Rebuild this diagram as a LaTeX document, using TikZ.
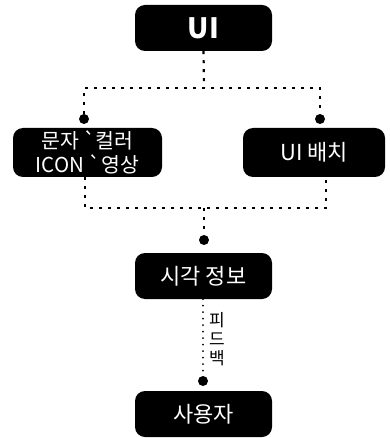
\documentclass[tikz,border=0pt]{standalone}
\usepackage{fontspec}
\setmainfont{Noto Sans CJK KR}[Ligatures=TeXOff]
\usetikzlibrary{positioning}

\begin{document}
\begin{tikzpicture}[x=1pt,y=-1pt,
  uibox/.style={fill=black,rounded corners=10pt,text=white,inner sep=0pt,
                minimum width=137pt,minimum height=46pt,align=center,
                font=\fontsize{22}{25}\selectfont},
  enddot/.style={circle,fill=black,minimum size=10pt,inner sep=0pt},
  dashlink/.style={line width=2.2pt,dash pattern=on 3pt off 6pt},
  dotlink/.style={line width=2pt,line cap=round,dash pattern=on 0pt off 6.5pt}]
  \useasboundingbox (0,0) rectangle (389,438);
  \node[uibox,font=\fontsize{28}{30}\selectfont\bfseries] (ui) at (203.5,28) {UI};
  \node[uibox,minimum width=149pt,minimum height=49pt,font=\fontsize{20.5}{24}\selectfont]
    (media) at (87.5,152.5) {문자 `컬러\\ICON `영상};
  \node[uibox,minimum width=142pt,minimum height=49pt] (layout) at (314,152.5) {UI 배치};
  \node[uibox] (visual) at (203.5,276) {시각 정보};
  \node[uibox] (user) at (203.5,414) {사용자};
  % ends of the links
  \node[enddot] (dotmedia) at (84,119) {};
  \node[enddot] (dotlayout) at (320,119) {};
  \node[enddot] (dotvisual) at (204,240) {};
  \node[enddot] (dotuser) at (203,381) {};
  \coordinate (jtop) at (204,88);
  \coordinate (jbot) at (204,208);
  % upper tree
  \draw[dashlink] (ui.south) -- (jtop);
  \draw[dashlink] (dotmedia.north) |- (jtop) -| (dotlayout.north);
  % lower tree
  \draw[dashlink] (media.south -| 85,0) |- (jbot) -| (layout.south -| 326,0);
  \draw[dashlink] (jbot) -- (dotvisual.north);
  % feedback
  \draw[dotlink] (visual.south -| dotuser) -- (dotuser.north);
  \node[font=\fontsize{17}{19}\selectfont,align=center] (fb) at (217,339) {피\\드\\백};
\end{tikzpicture}
\end{document}
